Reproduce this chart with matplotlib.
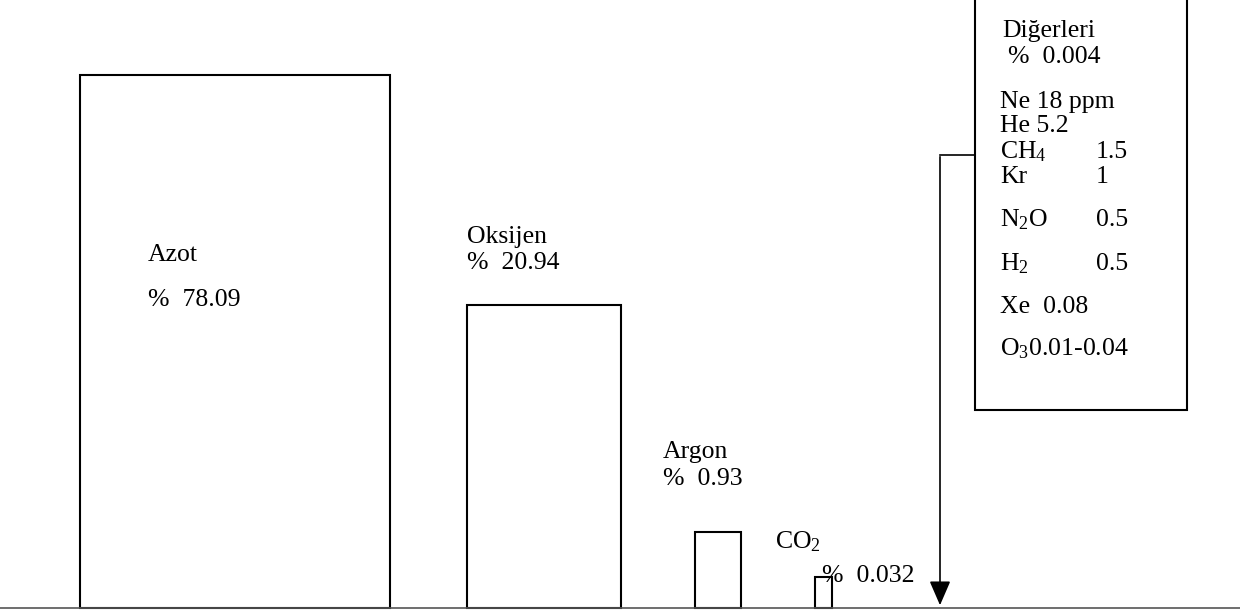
import matplotlib.pyplot as plt
from matplotlib.patches import Rectangle

# Gas names and their share in dry air (%)
gases = ['Azot', 'Oksijen', 'Argon', 'CO$_2$']
value_labels = ['%  78.09', '%  20.94', '%  0.93', '%  0.032']
# schematic bar heights as drawn in the figure (not to scale)
bar_heights = [533, 303, 76, 31]

# the "others" box
others_title = 'Diğerleri'
others_total = '%  0.004'
others_names = ['Ne 18 ppm', 'He 5.2', 'CH$_4$', 'Kr', 'N$_2$O', 'H$_2$', 'Xe  0.08', 'O$_3$0.01-0.04']
others_values = ['', '', '1.5', '1', '0.5', '0.5', '', '']

W, H = 1240, 610
base = 2

plt.rcParams['font.family'] = ['Liberation Serif', 'DejaVu Serif']
plt.rcParams['mathtext.fontset'] = 'custom'
plt.rcParams['mathtext.rm'] = 'Liberation Serif'
plt.rcParams['mathtext.it'] = 'Liberation Serif:italic'
fs = 18.5

fig = plt.figure(figsize=(12.4, 6.1), dpi=100)
ax = fig.add_axes([0, 0, 1, 1])
ax.set_xlim(0, W)
ax.set_ylim(0, H)
ax.axis('off')

# bars
bar_left = [80, 467, 695, 815]
bar_width = [310, 154, 46, 17]
ax.bar(bar_left, bar_heights, width=bar_width, bottom=base, align='edge',
       facecolor='white', edgecolor='black', linewidth=1.5)

# baseline
ax.plot([0, W], [base, base], color='#555555', linewidth=1.2)

# labels
name_pos = [(148, 355), (467, 373), (663, 158), (775, 68)]
val_pos = [(148, 310), (467, 347), (663, 131), (822, 34)]
for g, v, (nx, ny), (vx, vy) in zip(gases, value_labels, name_pos, val_pos):
    ax.text(nx, ny, g, fontsize=fs, ha='left', va='center')
    ax.text(vx, vy, v, fontsize=fs, ha='left', va='center')

# others box
ax.add_patch(Rectangle((975, 200), 212, 415, facecolor='white', edgecolor='black', linewidth=1.5))
ax.text(1002, 579, others_title, fontsize=fs, ha='left', va='center')
ax.text(1008, 553, others_total, fontsize=fs, ha='left', va='center')
row_y = [508, 484, 458, 433, 390, 346, 303, 261]
for name, val, y in zip(others_names, others_values, row_y):
    ax.text(1000, y, name, fontsize=fs, ha='left', va='center')
    if val:
        ax.text(1096, y, val, fontsize=fs, ha='left', va='center')

# arrow from box down to the baseline
ax.plot([975, 940], [455, 455], color='black', linewidth=1.2)
ax.annotate('', xy=(940, base), xytext=(940, 456),
            arrowprops=dict(arrowstyle='-|>,head_length=1.5,head_width=0.65',
                            color='black', linewidth=1.2))

fig.savefig('out.png', dpi=100)
